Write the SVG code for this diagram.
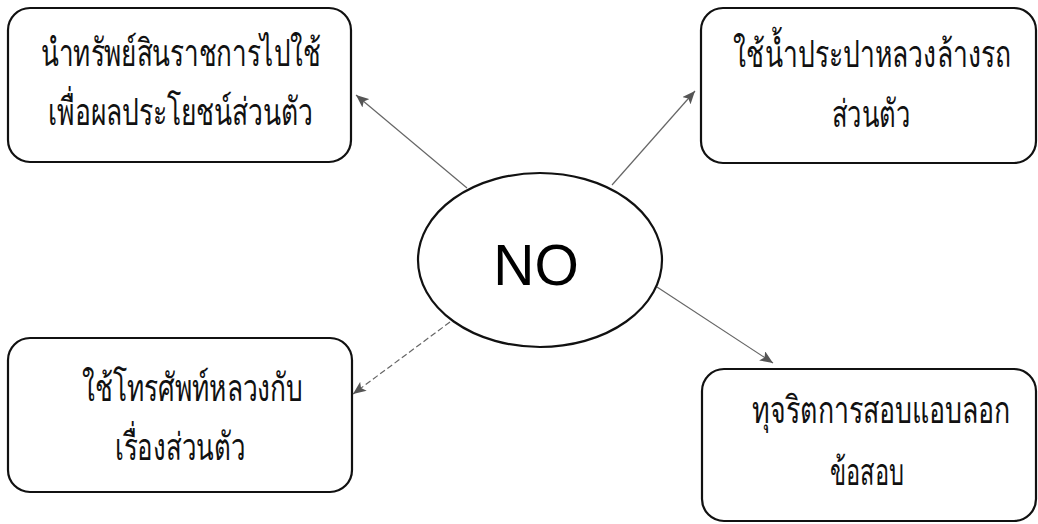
<svg xmlns="http://www.w3.org/2000/svg" width="1038" height="524" viewBox="0 0 1038 524">
<style>
.box{fill:#fff;stroke:#111;stroke-width:2.2}
.t{font-family:"Noto Sans","Liberation Sans",sans-serif;font-size:38px;fill:#111;font-weight:300}
.ts{font-size:24px}
.no{font-family:"Liberation Sans",Arial,sans-serif;font-size:57px;fill:#000}
.conn{stroke:#666;stroke-width:1.2;fill:none;marker-end:url(#ah)}
</style>
<defs>
<marker id="ah" viewBox="0 0 13 11" refX="13" refY="5.5" markerWidth="13" markerHeight="11" markerUnits="userSpaceOnUse" orient="auto">
<path d="M0,0 L13,5.5 L0,11 L3,5.5 Z" fill="#555"/>
</marker>
</defs>
<rect width="1038" height="524" fill="#fff"/>
<g id="n1">
<rect class="box" x="8" y="8" width="343" height="154" rx="22"/>
<text class="t" x="41" y="66" textLength="280" lengthAdjust="spacingAndGlyphs">นำทรัพย์สินราชการไปใช้</text>
<text class="t" x="48" y="125" textLength="265" lengthAdjust="spacingAndGlyphs">เพื่อผลประโยชน์ส่วนตัว</text>
</g>
<g id="n2">
<rect class="box" x="701" y="8" width="335" height="155" rx="22"/>
<text class="t ts" x="0" y="0" text-anchor="middle" transform="translate(872,67) scale(1,1.583)" textLength="278" lengthAdjust="spacingAndGlyphs">ใช้น้ำประปาหลวงล้างรถ</text>
<text class="t" x="832" y="127" textLength="78" lengthAdjust="spacingAndGlyphs">ส่วนตัว</text>
</g>
<g id="n3">
<rect class="box" x="8" y="338" width="344" height="154" rx="22"/>
<text class="t" x="82" y="401" textLength="221" lengthAdjust="spacingAndGlyphs">ใช้โทรศัพท์หลวงกับ</text>
<text class="t" x="115" y="460" textLength="130" lengthAdjust="spacingAndGlyphs">เรื่องส่วนตัว</text>
</g>
<g id="n4">
<rect class="box" x="702" y="369" width="334" height="152" rx="22"/>
<text class="t ts" x="0" y="0" text-anchor="middle" transform="translate(881,423) scale(1,1.583)" textLength="258" lengthAdjust="spacingAndGlyphs">ทุจริตการสอบแอบลอก</text>
<text class="t" x="830" y="485" textLength="74" lengthAdjust="spacingAndGlyphs">ข้อสอบ</text>
</g>
<g id="center">
<ellipse class="box" cx="540" cy="260" rx="122" ry="87"/>
<text class="no" x="536" y="285" text-anchor="middle">NO</text>
</g>
<g id="connectors">
<line class="conn" x1="467" y1="188" x2="356" y2="95"/>
<line class="conn" x1="612" y1="185" x2="695" y2="91"/>
<line class="conn" x1="450" y1="322" x2="353" y2="394" stroke-dasharray="6,3"/>
<line class="conn" x1="657" y1="287" x2="773" y2="363"/>
</g>
</svg>
